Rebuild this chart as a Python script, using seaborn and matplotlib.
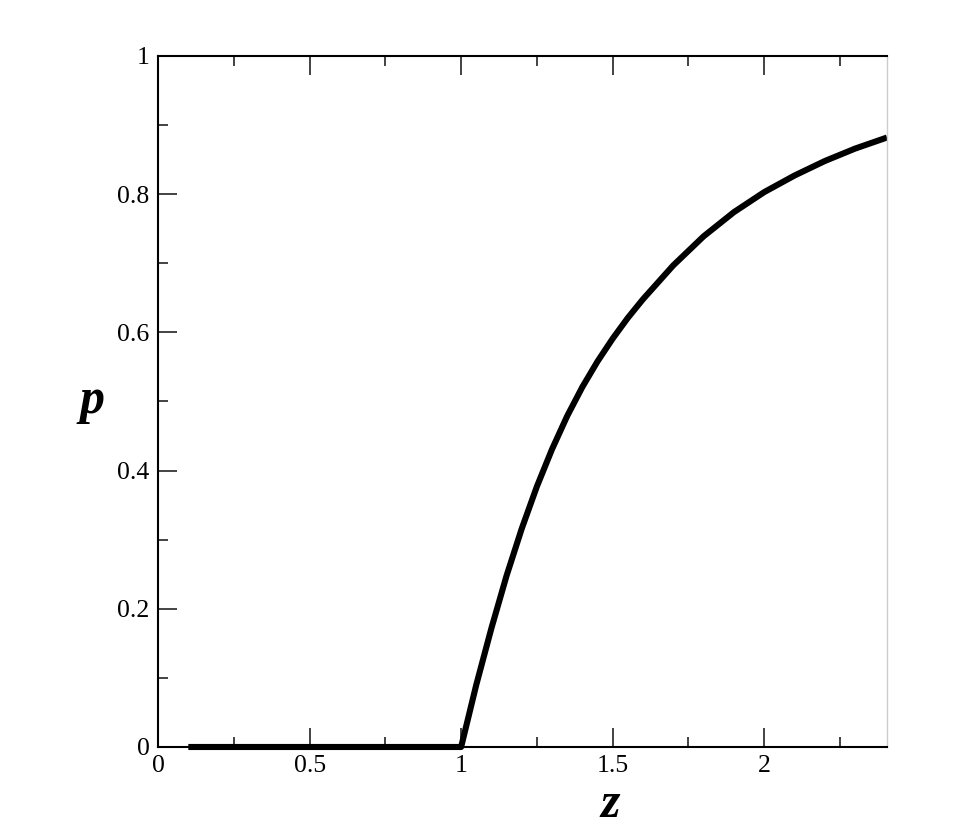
import numpy as np
import pandas as pd
import matplotlib
matplotlib.use('Agg')
import matplotlib.pyplot as plt
from matplotlib.ticker import MultipleLocator
import seaborn as sns

# values
z_vals = [0.1, 0.5, 1.0, 1.05, 1.10, 1.15, 1.20, 1.25, 1.30, 1.35, 1.40,
          1.45, 1.50, 1.55, 1.60, 1.70, 1.80, 1.90, 2.00, 2.10, 2.20,
          2.30, 2.405]
p_vals = [0.0, 0.0, 0.0, 0.090, 0.172, 0.248, 0.316, 0.377, 0.431, 0.479,
          0.521, 0.558, 0.591, 0.621, 0.648, 0.697, 0.739, 0.774, 0.803,
          0.827, 0.848, 0.866, 0.882]

df = pd.DataFrame({'z': z_vals, 'p': p_vals})

sns.set_style('ticks', {'text.color': 'black', 'axes.labelcolor': 'black',
                        'xtick.color': 'black', 'ytick.color': 'black'})
plt.rcParams['font.family'] = ['Liberation Serif', 'DejaVu Serif']

fig = plt.figure(figsize=(9.56, 8.38), dpi=100)
ax = fig.add_axes([0.1653, 0.1086, 0.7625, 0.8246])

sns.lineplot(data=df, x='z', y='p', ax=ax, color='black', linewidth=4.4,
             solid_capstyle='butt', solid_joinstyle='round', clip_on=False)

ax.set_xlim(0, 2.405)
ax.set_ylim(0, 1)
ax.xaxis.set_minor_locator(MultipleLocator(0.25))
ax.yaxis.set_minor_locator(MultipleLocator(0.1))
ax.set_xticks([0, 0.5, 1, 1.5, 2])
ax.set_xticklabels(['0', '0.5', '1', '1.5', '2'])
ax.set_yticks([0, 0.2, 0.4, 0.6, 0.8, 1])
ax.set_yticklabels(['0', '0.2', '0.4', '0.6', '0.8', '1'])

ax.tick_params(axis='x', which='both', direction='in', top=True, bottom=True,
               labelsize=18.5, pad=6, width=1.2, color='#222222',
               labelcolor='black')
ax.tick_params(axis='y', which='both', direction='in', left=True, right=False,
               labelsize=18.5, pad=6, width=1.2, color='#222222',
               labelcolor='black')
ax.tick_params(which='major', length=14)
ax.tick_params(which='minor', length=7)

for s in ['left', 'bottom', 'top']:
    ax.spines[s].set_linewidth(1.5)
    ax.spines[s].set_color('black')
ax.spines['right'].set_color('#cccccc')
ax.spines['right'].set_linewidth(1)

ax.set_xlabel('z', fontsize=36, fontweight='bold', style='italic', color='black')
ax.xaxis.set_label_coords(0.62, -0.05)
ax.set_ylabel('p', fontsize=36, fontweight='bold', style='italic',
              rotation=0, va='center', color='black')
ax.yaxis.set_label_coords(-0.09, 0.5)

fig.savefig('out.png', dpi=100)
